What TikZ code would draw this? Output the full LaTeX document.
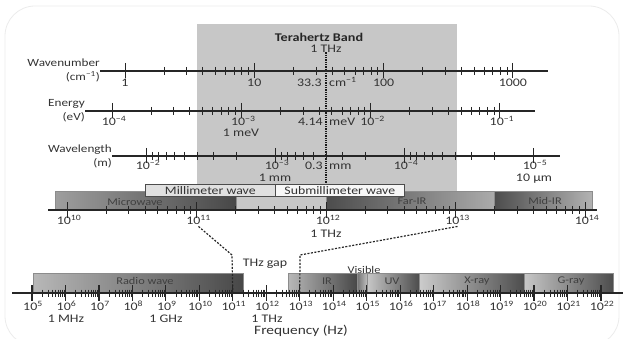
\documentclass[tikz,border=0pt]{standalone}
\usepackage{fontspec}
\setmainfont{Carlito}[FakeStretch=1.2]
\begin{document}
\begin{tikzpicture}[x=1pt,y=-1pt,
  txt/.style={font=\fontsize{11.6}{13}\selectfont, text=black!80, inner sep=0pt,
              text height=7pt, text depth=1.5pt},
  axlbl/.style={font=\fontsize{11}{12}\selectfont, text=black!80, inner sep=0pt, anchor=east},
  axisline/.style={line width=1.1pt, draw=black!85},
  majtick/.style={line width=1pt, draw=black!85},
  mintick/.style={line width=0.75pt, draw=black!85},
  subbox/.style={draw=black!70, line width=0.6pt, minimum height=12pt, inner sep=0pt,
                 anchor=north west, font=\fontsize{11.5}{12}\selectfont, text=black!80},
  gbar/.style={shade, draw=black!45, line width=0.4pt, inner sep=0pt, anchor=north west},
  barlbl/.style={font=\fontsize{10.3}{12}\selectfont, text=black!75, inner sep=0pt},
  conn/.style={dash pattern=on 2pt off 1.5pt, line width=1.2pt, draw=black!85},
]
\useasboundingbox (0,0) rectangle (623,339);
% soft outer frame
\draw[black!8, line width=0.8pt, rounded corners=30pt] (5,6) rectangle (619,346);

% terahertz band background
\node[fill=black!22, anchor=north west, minimum width=260pt, minimum height=186pt, inner sep=0pt] (band) at (197,24) {};
\node[font=\bfseries\fontsize{11.8}{13}\selectfont, text=black!85, inner sep=0pt] (title) at (319,37) {Terahertz Band};
\node[txt] (thz) at (326,50) {1 THz};
\coordinate (dotend) at (326,185);
\draw[densely dotted, line width=1.3pt, black!90] (thz.south) ++(0,-2) -- (dotend);

% ---------- wavenumber axis ----------
\node[axlbl] (wnlbl) at (100,63) {Wavenumber};
\node[axlbl] (wnunit) at (100,77) {(cm\textsuperscript{−1})};
\draw[axisline] (100,71) -- (548,71);
\foreach \i in {0,1,2} \foreach \k in {2,...,9}
  \draw[mintick] ({125+(\i+log10(\k))*129.3},67) -- ++(0,8);
\foreach \v [count=\c from 0] in {1,10,100,1000} {
  \draw[majtick] ({125+\c*129.3},63) -- ++(0,15);
  \node[txt] (wn\c) at ({125+\c*129.3},84) {\v};
}
\node[txt, anchor=east] (wnA) at (322,84) {33.3};
\node[txt, anchor=west] (wnB) at (329,84) {cm\textsuperscript{−1}};

% ---------- energy axis ----------
\node[axlbl] (enlbl) at (85,104) {Energy};
\node[axlbl] (enunit) at (85,117) {(eV)};
\draw[axisline] (85,111) -- (535,111);
\foreach \i in {0,1,2} \foreach \k in {2,...,9}
  \draw[mintick] ({112+(\i+log10(\k))*129.3},107) -- ++(0,8);
\foreach \v [count=\c from 0] in {4,3,2,1} {
  \draw[majtick] ({112+\c*129.3},103) -- ++(0,15);
  \node[txt] (en\c) at ({114+\c*129.3},123) {10\textsuperscript{−\v}};
}
\node[txt] (meV) at (241,134) {1 meV};
\node[txt, anchor=east] (enA) at (323,123) {4.14};
\node[txt, anchor=west] (enB) at (329,123) {meV};

% ---------- wavelength axis ----------
\node[axlbl] (wllbl) at (112,150) {Wavelength};
\node[axlbl] (wlunit) at (112,163) {(m)};
\draw[axisline] (112,156) -- (560,156);
\foreach \i in {0,1,2} \foreach \k in {2,...,9}
  \draw[mintick] ({146+(\i+1-log10(\k))*129},152) -- ++(0,8);
\foreach \v [count=\c from 0] in {2,3,4,5} {
  \draw[majtick] ({146+\c*129},148) -- ++(0,15);
  \node[txt] (wl\c) at ({148+\c*129},167) {10\textsuperscript{−\v}};
}
\node[txt] (mm) at (275,178.5) {1 mm};
\node[txt] (um) at (534,178.5) {10 μm};
\node[txt, anchor=east] (wlA) at (323,167) {0.3};
\node[txt, anchor=west] (wlB) at (329,167) {mm};

% ---------- wave bands above the frequency strip ----------
\node[gbar, left color=black!38, right color=black!72, minimum width=181pt, minimum height=19pt] (micro) at (55,191) {};
\node[gbar, left color=black!70, right color=black!33, minimum width=168pt, minimum height=19pt] (farir) at (326,191) {};
\node[gbar, left color=black!70, right color=black!30, minimum width=98pt, minimum height=19pt] (midir) at (494,191) {};
\node[subbox, fill=black!12, minimum width=130pt] (mmw) at (145,184) {Millimeter wave};
\node[subbox, fill=black!3, minimum width=129pt] (submm) at (275,184) {Submillimeter wave};
\node[barlbl] at (135,202) {Microwave};
\node[barlbl] at (412,201) {Far-IR};
\node[barlbl] at (545,201) {Mid-IR};

% ---------- frequency strip (THz region) ----------
\draw[axisline] (48,210) -- (597,210);
\foreach \i in {0,1,2,3} \foreach \k in {2,...,9}
  \draw[mintick] ({67+(\i+log10(\k))*129.5},206) -- ++(0,8);
\foreach \v [count=\c from 0] in {10,11,12,13,14} {
  \draw[majtick] ({67+\c*129.5},202) -- ++(0,16);
  \node[txt] (b\v) at ({69+\c*129.5},222) {10\textsuperscript{\v}};
}
\node[txt] (bthz) at (326,235) {1 THz};

% ---------- full spectrum bands ----------
\node[gbar, left color=black!28, right color=black!72, minimum width=210pt, minimum height=20pt] (radio) at (33,273) {};
\node[gbar, left color=black!28, right color=black!72, minimum width=69pt, minimum height=20pt] (ir) at (288,273) {};
\node[gbar, left color=black!55, right color=black!25, minimum width=10pt, minimum height=20pt] (vis) at (357,273) {};
\node[gbar, left color=black!22, right color=black!70, minimum width=52pt, minimum height=20pt] (uv) at (367,273) {};
\node[gbar, left color=black!20, right color=black!70, minimum width=105pt, minimum height=20pt] (xray) at (419,273) {};
\node[gbar, left color=black!22, right color=black!70, minimum width=89pt, minimum height=20pt] (gray) at (524,273) {};
\node[barlbl] at (145,281) {Radio wave};
\node[barlbl] at (327,281) {IR};
\node[barlbl] at (392,281) {UV};
\node[barlbl] at (477,281) {X-ray};
\node[barlbl] at (571,281) {G-ray};
\node[barlbl, text=black!80] (vislbl) at (364,269.5) {Visible};
\node[txt] (gap) at (265,264) {THz gap};

% ---------- full frequency axis ----------
\draw[axisline] (12,293) -- (623,293);
\foreach \i in {0,...,16} \foreach \k in {2,...,9}
  \draw[mintick] ({32+(\i+log10(\k))*33.47},289.5) -- ++(0,7);
\foreach \n in {5,...,22} {
  \coordinate (ft\n) at ({32+(\n-5)*33.47},293);
  \draw[majtick, line width=1.2pt] ({32+(\n-5)*33.47},285) -- ++(0,16);
  \node[txt] (f\n) at ({33+(\n-5)*33.47},308) {10\textsuperscript{\n}};
}
\node[txt] (mhz) at (66,320) {1 MHz};
\node[txt] (ghz) at (166,320) {1 GHz};
\node[txt] (fthz) at (267,320) {1 THz};
\node[txt, font=\fontsize{12.8}{14}\selectfont] (freq) at (301,332) {Frequency (Hz)};

% ---------- zoom connectors ----------
\coordinate (gapL) at (232,255);
\coordinate (gapR) at (300,255);
\draw[conn] (b11.south) -- (gapL) -- (ft11);
\draw[conn] (b13.south) -- (gapR) -- (ft13);
\end{tikzpicture}
\end{document}
